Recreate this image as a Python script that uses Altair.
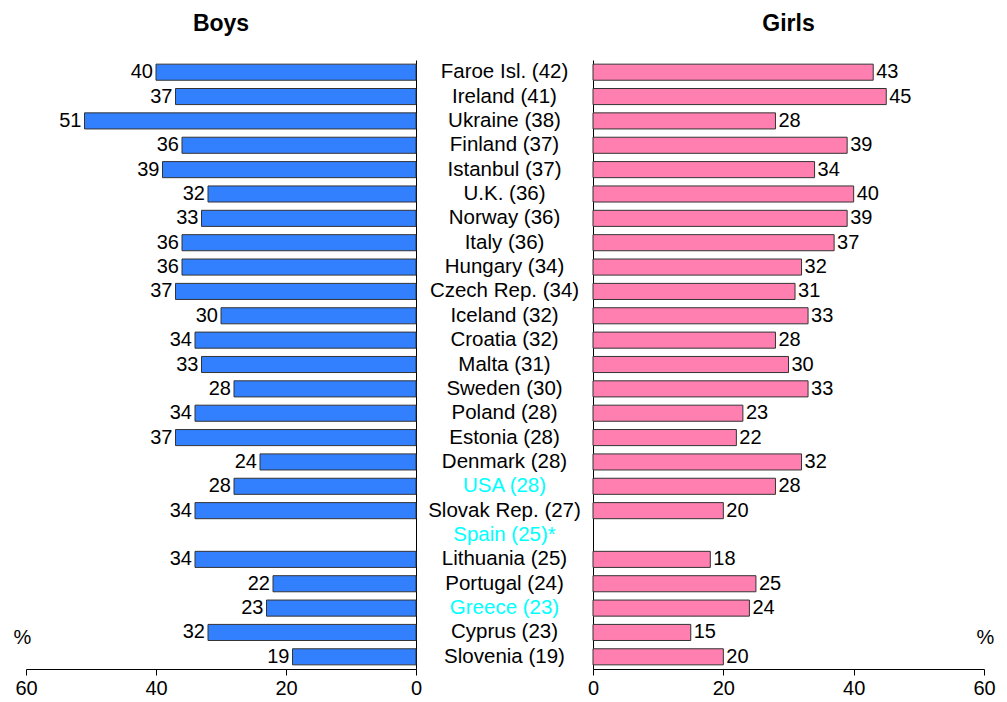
import altair as alt
import pandas as pd

countries = ["Faroe Isl. (42)", "Ireland (41)", "Ukraine (38)", "Finland (37)", "Istanbul (37)",
             "U.K. (36)", "Norway (36)", "Italy (36)", "Hungary (34)", "Czech Rep. (34)",
             "Iceland (32)", "Croatia (32)", "Malta (31)", "Sweden (30)", "Poland (28)",
             "Estonia (28)", "Denmark (28)", "USA (28)", "Slovak Rep. (27)", "Spain (25)*",
             "Lithuania (25)", "Portugal (24)", "Greece (23)", "Cyprus (23)", "Slovenia (19)"]
boys = [40, 37, 51, 36, 39, 32, 33, 36, 36, 37, 30, 34, 33, 28, 34, 37, 24, 28, 34, None,
        34, 22, 23, 32, 19]
girls = [43, 45, 28, 39, 34, 40, 39, 37, 32, 31, 33, 28, 30, 33, 23, 22, 32, 28, 20, None,
         18, 25, 24, 15, 20]
highlight = ["no"] * 25
for c in ["USA (28)", "Spain (25)*", "Greece (23)"]:
    highlight[countries.index(c)] = "yes"
x_ticks = [0, 20, 40, 60]

df = pd.DataFrame({"country": countries, "boys": boys, "girls": girls, "hl": highlight})

FONT = "Liberation Sans"
H = 609
yscale = alt.Scale(paddingInner=0.34, paddingOuter=0.17)
noview = alt.ViewBackground(stroke="transparent", strokeWidth=0)


def side(field, title, color, reverse, width, title_x, y_orient, align, dx):
    base = alt.Chart(df).encode(
        y=alt.Y("country:N", sort=countries, scale=yscale,
                axis=alt.Axis(orient=y_orient, labels=False, ticks=False, title=None,
                              domainColor="black", domainWidth=1, grid=False)),
    )
    xenc = alt.X(f"{field}:Q",
                 scale=alt.Scale(domain=[0, 60], reverse=reverse, nice=False),
                 axis=alt.Axis(values=x_ticks, tickSize=6, tickColor="black", domainColor="black",
                               labelFontSize=20, labelFont=FONT, labelColor="black",
                               labelFlush=False, labelOverlap=False,
                               labelPadding=3, grid=False, title="%", titleFont=FONT,
                               titleFontSize=20, titleFontWeight="normal", titleAngle=0,
                               titleX=title_x, titleY=-32, titleAlign="center",
                               titleBaseline="middle", titleColor="black"))
    bars = base.mark_bar(color=color, stroke="#333333", strokeWidth=1).encode(x=xenc)
    labels = base.mark_text(align=align, dx=dx, baseline="middle", fontSize=20, font=FONT,
                            color="black").encode(
        x=alt.X(f"{field}:Q"), text=alt.Text(f"{field}:Q", format="d"))
    return alt.layer(bars, labels).properties(
        width=width, height=H, view=noview,
        title=alt.TitleParams(title, fontSize=23, font=FONT, fontWeight="bold",
                              anchor="middle", offset=24, color="black"))


left = side("boys", "Boys", "#3380FF", True, 390, -4, "right", "right", -3)
right = side("girls", "Girls", "#FF80B0", False, 391, 392, "left", "left", 3)

center = alt.Chart(df).mark_text(fontSize=20.5, font=FONT, baseline="middle").encode(
    y=alt.Y("country:N", sort=countries, scale=yscale, axis=None),
    x=alt.value(88.5),
    text="country:N",
    color=alt.Color("hl:N", scale=alt.Scale(domain=["no", "yes"], range=["black", "#00FFFF"]),
                    legend=None),
).properties(width=177, height=H, view=noview)

chart = alt.hconcat(left, center, right, spacing=0, bounds="flush").properties(
    padding={"left": 5, "top": 5, "right": 0, "bottom": 0}
).configure_view(stroke="transparent", strokeWidth=0).configure(background="white")

chart.save("out.html", embed_options={"renderer": "svg", "actions": False})
